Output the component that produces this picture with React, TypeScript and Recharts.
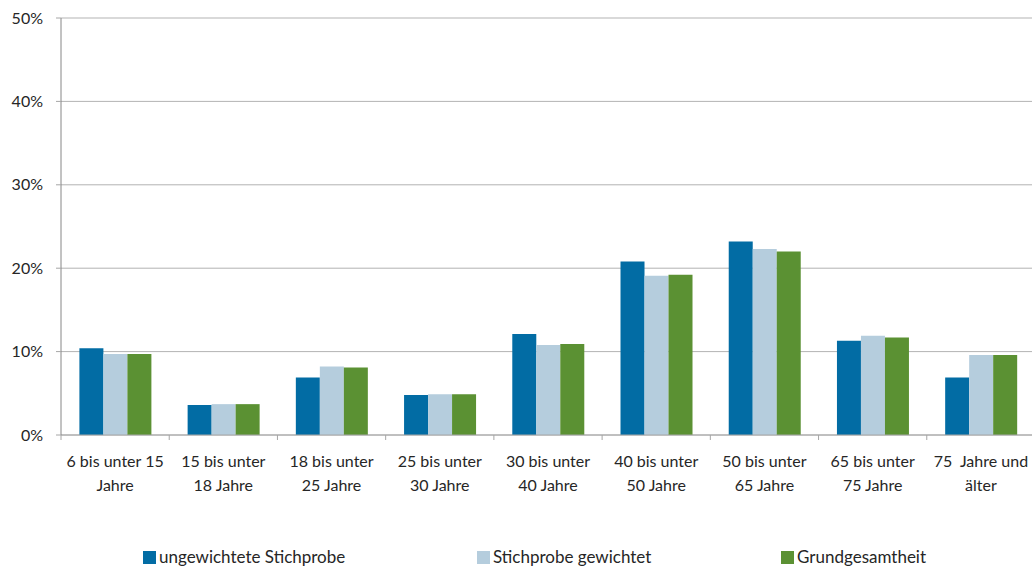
import { BarChart, Bar, XAxis, YAxis, CartesianGrid } from 'recharts';

// Altersgruppen, Zeilenumbruch per "\n"
const categories = [
  '6 bis unter 15\nJahre',
  '15 bis unter\n18 Jahre',
  '18 bis unter\n25 Jahre',
  '25 bis unter\n30 Jahre',
  '30 bis unter\n40 Jahre',
  '40 bis unter\n50 Jahre',
  '50 bis unter\n65 Jahre',
  '65 bis unter\n75 Jahre',
  '75  Jahre und\nälter',
];

const ungewichtet = [10.4, 3.6, 6.9, 4.8, 12.1, 20.8, 23.2, 11.3, 6.9];
const gewichtet = [9.7, 3.7, 8.2, 4.9, 10.8, 19.1, 22.3, 11.9, 9.6];
const grundgesamtheit = [9.7, 3.7, 8.1, 4.9, 10.9, 19.2, 22.0, 11.7, 9.6];

const yTicks = [0, 10, 20, 30, 40, 50];

const series = [
  { key: 'ungewichtet', name: 'ungewichtete Stichprobe', color: '#026ca4' },
  { key: 'gewichtet', name: 'Stichprobe gewichtet', color: '#b5cddd' },
  { key: 'grund', name: 'Grundgesamtheit', color: '#5b9133' },
];

const data = categories.map((c, i) => ({
  cat: c,
  ungewichtet: ungewichtet[i],
  gewichtet: gewichtet[i],
  grund: grundgesamtheit[i],
}));

const FONT = 'Lato, "Open Sans", sans-serif';
const CHART_W = 1035;
const PLOT_LEFT = 61;
const STEP = (CHART_W - PLOT_LEFT) / categories.length;

const CategoryTick = ({ x, y, payload }: any) => {
  const lines = String(payload.value).split('\n');
  const left = Number(x) - STEP / 2;
  return (
    <g>
      <line x1={left} x2={left} y1={Number(y) - 8} y2={Number(y) - 3} stroke="#a6a6a6" />
      <text
        x={x}
        y={Number(y) + 24}
        textAnchor="middle"
        fill="#262626"
        style={{ fontFamily: FONT, fontSize: 16 }}
      >
        {lines.map((l, i) => (
          <tspan key={i} x={x} dy={i === 0 ? 0 : 24} style={{ whiteSpace: 'pre' }}>
            {l}
          </tspan>
        ))}
      </text>
    </g>
  );
};

const legendPos = [143, 477, 781];

export default function App() {
  return (
    <div
      style={{
        position: 'fixed',
        left: 0,
        top: 0,
        width: 1032,
        height: 567,
        overflow: 'hidden',
        background: '#fff',
      }}
    >
      <BarChart
        width={CHART_W}
        height={567}
        data={data}
        margin={{ top: 18, right: 0, bottom: 0, left: 0 }}
        barCategoryGap="17%"
        barGap={0}
      >
        <CartesianGrid vertical={false} stroke="#b3b3b3" />
        <XAxis
          dataKey="cat"
          height={132}
          interval={0}
          axisLine={{ stroke: '#a6a6a6' }}
          tickLine={false}
          tick={<CategoryTick />}
        />
        <YAxis
          width={PLOT_LEFT}
          domain={[0, 50]}
          ticks={yTicks}
          tickFormatter={(v: number) => `${v}%`}
          axisLine={{ stroke: '#868686' }}
          tickLine={{ stroke: '#a6a6a6' }}
          tickSize={5}
          tickMargin={13}
          tick={{ fill: '#262626', fontFamily: FONT, fontSize: 16 }}
        />
        {series.map((s) => (
          <Bar
            key={s.key}
            dataKey={s.key}
            name={s.name}
            fill={s.color}
            isAnimationActive={false}
          />
        ))}
      </BarChart>
      {series.map((s, i) => (
        <div
          key={s.key}
          style={{
            position: 'absolute',
            left: legendPos[i],
            top: 547,
            height: 20,
            display: 'flex',
            alignItems: 'center',
            fontFamily: FONT,
            fontSize: 17,
            lineHeight: '20px',
            color: '#262626',
            whiteSpace: 'nowrap',
          }}
        >
          <span
            style={{
              display: 'inline-block',
              width: 13,
              height: 13,
              background: s.color,
              marginRight: 3,
            }}
          />
          {s.name}
        </div>
      ))}
    </div>
  );
}
